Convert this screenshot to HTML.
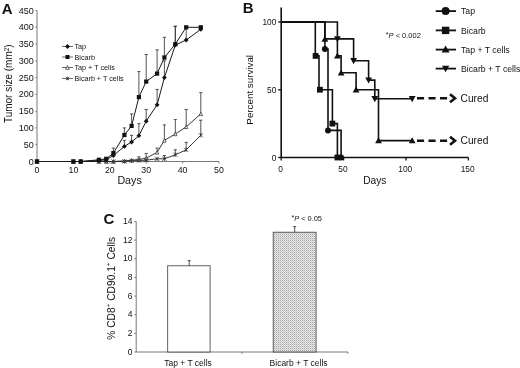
<!DOCTYPE html>
<html><head><meta charset="utf-8"><title>Figure</title>
<style>
html,body{margin:0;padding:0;background:#fff;}
body{width:520px;height:368px;overflow:hidden;}
svg{display:block;font-family:"Liberation Sans", sans-serif;fill:#111;filter:blur(0.3px);}
</style></head><body>
<svg width="520" height="368" viewBox="0 0 520 368">
<rect width="520" height="368" fill="#fff"/>
<g id="chartA">
<path d="M37.0 10.5V161.5H219.0" stroke="#555" stroke-width="0.8" fill="none"/>
<path d="M35.4 161.5H37.0" stroke="#555" stroke-width="0.7"/>
<text x="33.8" y="164.5" font-size="9" text-anchor="end">0</text>
<path d="M35.4 144.7H37.0" stroke="#555" stroke-width="0.7"/>
<text x="33.8" y="147.7" font-size="9" text-anchor="end">50</text>
<path d="M35.4 127.9H37.0" stroke="#555" stroke-width="0.7"/>
<text x="33.8" y="130.9" font-size="9" text-anchor="end">100</text>
<path d="M35.4 111.2H37.0" stroke="#555" stroke-width="0.7"/>
<text x="33.8" y="114.2" font-size="9" text-anchor="end">150</text>
<path d="M35.4 94.4H37.0" stroke="#555" stroke-width="0.7"/>
<text x="33.8" y="97.4" font-size="9" text-anchor="end">200</text>
<path d="M35.4 77.6H37.0" stroke="#555" stroke-width="0.7"/>
<text x="33.8" y="80.6" font-size="9" text-anchor="end">250</text>
<path d="M35.4 60.8H37.0" stroke="#555" stroke-width="0.7"/>
<text x="33.8" y="63.8" font-size="9" text-anchor="end">300</text>
<path d="M35.4 44.1H37.0" stroke="#555" stroke-width="0.7"/>
<text x="33.8" y="47.1" font-size="9" text-anchor="end">350</text>
<path d="M35.4 27.3H37.0" stroke="#555" stroke-width="0.7"/>
<text x="33.8" y="30.3" font-size="9" text-anchor="end">400</text>
<path d="M35.4 10.5H37.0" stroke="#555" stroke-width="0.7"/>
<text x="33.8" y="13.5" font-size="9" text-anchor="end">450</text>
<path d="M37.0 161.5V163.5" stroke="#555" stroke-width="0.7"/>
<text x="37.0" y="173.0" font-size="8.8" text-anchor="middle">0</text>
<path d="M73.4 161.5V163.5" stroke="#555" stroke-width="0.7"/>
<text x="73.4" y="173.0" font-size="8.8" text-anchor="middle">10</text>
<path d="M109.8 161.5V163.5" stroke="#555" stroke-width="0.7"/>
<text x="109.8" y="173.0" font-size="8.8" text-anchor="middle">20</text>
<path d="M146.2 161.5V163.5" stroke="#555" stroke-width="0.7"/>
<text x="146.2" y="173.0" font-size="8.8" text-anchor="middle">30</text>
<path d="M182.6 161.5V163.5" stroke="#555" stroke-width="0.7"/>
<text x="182.6" y="173.0" font-size="8.8" text-anchor="middle">40</text>
<path d="M219.0 161.5V163.5" stroke="#555" stroke-width="0.7"/>
<text x="219.0" y="173.0" font-size="8.8" text-anchor="middle">50</text>
<text x="129.6" y="183.5" font-size="10.7" text-anchor="middle">Days</text>
<text transform="translate(12.2,83.7) rotate(-90)" font-size="10.0" text-anchor="middle">Tumor size (mm<tspan font-size="6.5" dy="-3.5">2</tspan><tspan dy="3.5">)</tspan></text>
<text x="1.7" y="13.5" font-size="15" font-weight="bold">A</text>
<path d="M113.4 155.5V151.4M111.8 151.4H115.0" stroke="#2a2a2a" stroke-width="0.8" fill="none"/>
<path d="M124.4 146.4V140.4M122.8 140.4H126.0" stroke="#2a2a2a" stroke-width="0.8" fill="none"/>
<path d="M131.6 142.0V135.3M130.0 135.3H133.2" stroke="#2a2a2a" stroke-width="0.8" fill="none"/>
<path d="M138.9 135.7V123.6M137.3 123.6H140.5" stroke="#2a2a2a" stroke-width="0.8" fill="none"/>
<path d="M146.2 121.2V109.5M144.6 109.5H147.8" stroke="#2a2a2a" stroke-width="0.8" fill="none"/>
<path d="M157.1 104.8V89.4M155.5 89.4H158.7" stroke="#2a2a2a" stroke-width="0.8" fill="none"/>
<path d="M164.4 77.6V60.8M162.8 60.8H166.0" stroke="#2a2a2a" stroke-width="0.8" fill="none"/>
<path d="M175.3 45.1V26.3M173.7 26.3H176.9" stroke="#2a2a2a" stroke-width="0.8" fill="none"/>
<path d="M186.2 40.0V27.9M184.6 27.9H187.8" stroke="#2a2a2a" stroke-width="0.8" fill="none"/>
<path d="M113.4 153.1V148.1M111.8 148.1H115.0" stroke="#2a2a2a" stroke-width="0.8" fill="none"/>
<path d="M124.4 135.0V127.9M122.8 127.9H126.0" stroke="#2a2a2a" stroke-width="0.8" fill="none"/>
<path d="M131.6 125.9V113.9M130.0 113.9H133.2" stroke="#2a2a2a" stroke-width="0.8" fill="none"/>
<path d="M138.9 97.1V71.6M137.3 71.6H140.5" stroke="#2a2a2a" stroke-width="0.8" fill="none"/>
<path d="M146.2 81.6V54.5M144.6 54.5H147.8" stroke="#2a2a2a" stroke-width="0.8" fill="none"/>
<path d="M157.1 73.6V49.8M155.5 49.8H158.7" stroke="#2a2a2a" stroke-width="0.8" fill="none"/>
<path d="M164.4 57.5V37.3M162.8 37.3H166.0" stroke="#2a2a2a" stroke-width="0.8" fill="none"/>
<path d="M175.3 44.1V26.3M173.7 26.3H176.9" stroke="#2a2a2a" stroke-width="0.8" fill="none"/>
<path d="M138.9 159.5V156.8M137.3 156.8H140.5" stroke="#2a2a2a" stroke-width="0.8" fill="none"/>
<path d="M146.2 158.1V153.4M144.6 153.4H147.8" stroke="#2a2a2a" stroke-width="0.8" fill="none"/>
<path d="M157.1 152.4V148.1M155.5 148.1H158.7" stroke="#2a2a2a" stroke-width="0.8" fill="none"/>
<path d="M164.4 140.4V124.9M162.8 124.9H166.0" stroke="#2a2a2a" stroke-width="0.8" fill="none"/>
<path d="M175.3 134.0V119.6M173.7 119.6H176.9" stroke="#2a2a2a" stroke-width="0.8" fill="none"/>
<path d="M186.2 126.9V109.5M184.6 109.5H187.8" stroke="#2a2a2a" stroke-width="0.8" fill="none"/>
<path d="M200.8 113.9V92.7M199.2 92.7H202.4" stroke="#2a2a2a" stroke-width="0.8" fill="none"/>
<path d="M164.4 158.8V155.5M162.8 155.5H166.0" stroke="#2a2a2a" stroke-width="0.8" fill="none"/>
<path d="M175.3 154.8V149.8M173.7 149.8H176.9" stroke="#2a2a2a" stroke-width="0.8" fill="none"/>
<path d="M186.2 149.8V142.4M184.6 142.4H187.8" stroke="#2a2a2a" stroke-width="0.8" fill="none"/>
<path d="M200.8 135.3V120.2M199.2 120.2H202.4" stroke="#2a2a2a" stroke-width="0.8" fill="none"/>
<polyline points="37.0,161.5 73.4,161.5 80.7,161.5 98.9,161.5 106.2,161.5 113.4,161.5 124.4,160.8 131.6,160.2 138.9,159.5 146.2,158.1 157.1,152.4 164.4,140.4 175.3,134.0 186.2,126.9 200.8,113.9" fill="none" stroke="#222" stroke-width="0.9"/>
<polyline points="37.0,161.5 73.4,161.5 80.7,161.5 98.9,161.5 106.2,161.5 113.4,161.5 124.4,161.5 131.6,160.8 138.9,160.5 146.2,160.2 157.1,158.8 164.4,158.8 175.3,154.8 186.2,149.8 200.8,135.3" fill="none" stroke="#222" stroke-width="0.9"/>
<polyline points="37.0,161.5 73.4,161.5 80.7,161.5 98.9,160.5 106.2,159.8 113.4,155.5 124.4,146.4 131.6,142.0 138.9,135.7 146.2,121.2 157.1,104.8 164.4,77.6 175.3,45.1 186.2,40.0 200.8,29.3" fill="none" stroke="#1a1a1a" stroke-width="1.0"/>
<polyline points="37.0,161.5 73.4,161.5 80.7,161.5 98.9,159.8 106.2,158.8 113.4,153.1 124.4,135.0 131.6,125.9 138.9,97.1 146.2,81.6 157.1,73.6 164.4,57.5 175.3,44.1 186.2,27.3 200.8,27.3" fill="none" stroke="#1a1a1a" stroke-width="1.0"/>
<path d="M37.0 159.8L38.7 163.2H35.3Z" fill="#fff" stroke="#222" stroke-width="0.7"/>
<path d="M73.4 159.8L75.1 163.2H71.7Z" fill="#fff" stroke="#222" stroke-width="0.7"/>
<path d="M80.7 159.8L82.4 163.2H79.0Z" fill="#fff" stroke="#222" stroke-width="0.7"/>
<path d="M98.9 159.8L100.6 163.2H97.2Z" fill="#fff" stroke="#222" stroke-width="0.7"/>
<path d="M106.2 159.8L107.9 163.2H104.5Z" fill="#fff" stroke="#222" stroke-width="0.7"/>
<path d="M113.4 159.8L115.1 163.2H111.7Z" fill="#fff" stroke="#222" stroke-width="0.7"/>
<path d="M124.4 159.1L126.1 162.5H122.7Z" fill="#fff" stroke="#222" stroke-width="0.7"/>
<path d="M131.6 158.5L133.3 161.9H129.9Z" fill="#fff" stroke="#222" stroke-width="0.7"/>
<path d="M138.9 157.8L140.6 161.2H137.2Z" fill="#fff" stroke="#222" stroke-width="0.7"/>
<path d="M146.2 156.4L147.9 159.8H144.5Z" fill="#fff" stroke="#222" stroke-width="0.7"/>
<path d="M157.1 150.7L158.8 154.1H155.4Z" fill="#fff" stroke="#222" stroke-width="0.7"/>
<path d="M164.4 138.7L166.1 142.1H162.7Z" fill="#fff" stroke="#222" stroke-width="0.7"/>
<path d="M175.3 132.3L177.0 135.7H173.6Z" fill="#fff" stroke="#222" stroke-width="0.7"/>
<path d="M186.2 125.2L187.9 128.6H184.5Z" fill="#fff" stroke="#222" stroke-width="0.7"/>
<path d="M200.8 112.2L202.5 115.6H199.1Z" fill="#fff" stroke="#222" stroke-width="0.7"/>
<path d="M34.9 159.4L39.1 163.6M34.9 163.6L39.1 159.4M37.0 159.4V163.6" stroke="#222" stroke-width="0.7" fill="none"/>
<path d="M71.3 159.4L75.5 163.6M71.3 163.6L75.5 159.4M73.4 159.4V163.6" stroke="#222" stroke-width="0.7" fill="none"/>
<path d="M78.6 159.4L82.8 163.6M78.6 163.6L82.8 159.4M80.7 159.4V163.6" stroke="#222" stroke-width="0.7" fill="none"/>
<path d="M96.8 159.4L101.0 163.6M96.8 163.6L101.0 159.4M98.9 159.4V163.6" stroke="#222" stroke-width="0.7" fill="none"/>
<path d="M104.1 159.4L108.3 163.6M104.1 163.6L108.3 159.4M106.2 159.4V163.6" stroke="#222" stroke-width="0.7" fill="none"/>
<path d="M111.3 159.4L115.5 163.6M111.3 163.6L115.5 159.4M113.4 159.4V163.6" stroke="#222" stroke-width="0.7" fill="none"/>
<path d="M122.3 159.4L126.5 163.6M122.3 163.6L126.5 159.4M124.4 159.4V163.6" stroke="#222" stroke-width="0.7" fill="none"/>
<path d="M129.5 158.7L133.7 162.9M129.5 162.9L133.7 158.7M131.6 158.7V162.9" stroke="#222" stroke-width="0.7" fill="none"/>
<path d="M136.8 158.4L141.0 162.6M136.8 162.6L141.0 158.4M138.9 158.4V162.6" stroke="#222" stroke-width="0.7" fill="none"/>
<path d="M144.1 158.1L148.3 162.3M144.1 162.3L148.3 158.1M146.2 158.1V162.3" stroke="#222" stroke-width="0.7" fill="none"/>
<path d="M155.0 156.7L159.2 160.9M155.0 160.9L159.2 156.7M157.1 156.7V160.9" stroke="#222" stroke-width="0.7" fill="none"/>
<path d="M162.3 156.7L166.5 160.9M162.3 160.9L166.5 156.7M164.4 156.7V160.9" stroke="#222" stroke-width="0.7" fill="none"/>
<path d="M173.2 152.7L177.4 156.9M173.2 156.9L177.4 152.7M175.3 152.7V156.9" stroke="#222" stroke-width="0.7" fill="none"/>
<path d="M184.1 147.7L188.3 151.9M184.1 151.9L188.3 147.7M186.2 147.7V151.9" stroke="#222" stroke-width="0.7" fill="none"/>
<path d="M198.7 133.2L202.9 137.4M198.7 137.4L202.9 133.2M200.8 133.2V137.4" stroke="#222" stroke-width="0.7" fill="none"/>
<path d="M37.0 159.1L39.4 161.5L37.0 163.9L34.6 161.5Z" fill="#111"/>
<path d="M73.4 159.1L75.8 161.5L73.4 163.9L71.0 161.5Z" fill="#111"/>
<path d="M80.7 159.1L83.1 161.5L80.7 163.9L78.3 161.5Z" fill="#111"/>
<path d="M98.9 158.1L101.3 160.5L98.9 162.9L96.5 160.5Z" fill="#111"/>
<path d="M106.2 157.4L108.6 159.8L106.2 162.2L103.8 159.8Z" fill="#111"/>
<path d="M113.4 153.1L115.8 155.5L113.4 157.9L111.0 155.5Z" fill="#111"/>
<path d="M124.4 144.0L126.8 146.4L124.4 148.8L122.0 146.4Z" fill="#111"/>
<path d="M131.6 139.6L134.0 142.0L131.6 144.4L129.2 142.0Z" fill="#111"/>
<path d="M138.9 133.3L141.3 135.7L138.9 138.1L136.5 135.7Z" fill="#111"/>
<path d="M146.2 118.8L148.6 121.2L146.2 123.6L143.8 121.2Z" fill="#111"/>
<path d="M157.1 102.4L159.5 104.8L157.1 107.2L154.7 104.8Z" fill="#111"/>
<path d="M164.4 75.2L166.8 77.6L164.4 80.0L162.0 77.6Z" fill="#111"/>
<path d="M175.3 42.7L177.7 45.1L175.3 47.5L172.9 45.1Z" fill="#111"/>
<path d="M186.2 37.6L188.6 40.0L186.2 42.4L183.8 40.0Z" fill="#111"/>
<path d="M200.8 26.9L203.2 29.3L200.8 31.7L198.4 29.3Z" fill="#111"/>
<rect x="34.9" y="159.4" width="4.2" height="4.2" fill="#111"/>
<rect x="71.3" y="159.4" width="4.2" height="4.2" fill="#111"/>
<rect x="78.6" y="159.4" width="4.2" height="4.2" fill="#111"/>
<rect x="96.8" y="157.7" width="4.2" height="4.2" fill="#111"/>
<rect x="104.1" y="156.7" width="4.2" height="4.2" fill="#111"/>
<rect x="111.3" y="151.0" width="4.2" height="4.2" fill="#111"/>
<rect x="122.3" y="132.9" width="4.2" height="4.2" fill="#111"/>
<rect x="129.5" y="123.8" width="4.2" height="4.2" fill="#111"/>
<rect x="136.8" y="95.0" width="4.2" height="4.2" fill="#111"/>
<rect x="144.1" y="79.5" width="4.2" height="4.2" fill="#111"/>
<rect x="155.0" y="71.5" width="4.2" height="4.2" fill="#111"/>
<rect x="162.3" y="55.4" width="4.2" height="4.2" fill="#111"/>
<rect x="173.2" y="42.0" width="4.2" height="4.2" fill="#111"/>
<rect x="184.1" y="25.2" width="4.2" height="4.2" fill="#111"/>
<rect x="198.7" y="25.2" width="4.2" height="4.2" fill="#111"/>
<path d="M62 46.5H73" stroke="#444" stroke-width="0.8"/>
<path d="M67.5 44.1L69.9 46.5L67.5 48.9L65.1 46.5Z" fill="#111"/>
<text x="74.5" y="49.1" font-size="7.2">Tap</text>
<path d="M62 57H73" stroke="#444" stroke-width="0.8"/>
<rect x="65.5" y="55.0" width="4.0" height="4.0" fill="#111"/>
<text x="74.5" y="59.6" font-size="7.2">Bicarb</text>
<path d="M62 67.5H73" stroke="#444" stroke-width="0.8"/>
<path d="M67.5 65.7L69.3 69.3H65.7Z" fill="#fff" stroke="#222" stroke-width="0.7"/>
<text x="74.5" y="70.1" font-size="7.2">Tap + T cells</text>
<path d="M62 78.5H73" stroke="#444" stroke-width="0.8"/>
<path d="M65.8 76.8L69.2 80.2M65.8 80.2L69.2 76.8M67.5 76.8V80.2" stroke="#222" stroke-width="0.7" fill="none"/>
<text x="74.5" y="81.1" font-size="7.2">Bicarb + T cells</text>
</g>
<g id="chartB">
<path d="M281.2 7.5V157.5H468.4" stroke="#111" stroke-width="1.6" fill="none"/>
<path d="M278.2 157.5H281.2" stroke="#111" stroke-width="1.3"/>
<text x="276.4" y="160.5" font-size="8.4" text-anchor="end">0</text>
<path d="M278.2 89.8H281.2" stroke="#111" stroke-width="1.3"/>
<text x="276.4" y="92.8" font-size="8.4" text-anchor="end">50</text>
<path d="M278.2 22.0H281.2" stroke="#111" stroke-width="1.3"/>
<text x="276.4" y="25.0" font-size="8.4" text-anchor="end">100</text>
<path d="M281.2 157.5V160.5" stroke="#111" stroke-width="1.3"/>
<text x="280.5" y="172.3" font-size="8.4" text-anchor="middle">0</text>
<path d="M343.6 157.5V160.5" stroke="#111" stroke-width="1.3"/>
<text x="342.9" y="172.3" font-size="8.4" text-anchor="middle">50</text>
<path d="M406.0 157.5V160.5" stroke="#111" stroke-width="1.3"/>
<text x="405.3" y="172.3" font-size="8.4" text-anchor="middle">100</text>
<path d="M468.4 157.5V160.5" stroke="#111" stroke-width="1.3"/>
<text x="467.7" y="172.3" font-size="8.4" text-anchor="middle">150</text>
<text x="374.8" y="183.5" font-size="10.2" text-anchor="middle">Days</text>
<text transform="translate(253.2,89.8) rotate(-90)" font-size="9.8" text-anchor="middle">Percent survival</text>
<text x="242.7" y="12.8" font-size="15" font-weight="bold">B</text>
<path d="M281.2 22.0 L324.9 22.0 L324.9 49.1 L328.0 49.1 L328.0 130.4 L341.1 130.4 L341.1 157.5" fill="none" stroke="#111" stroke-width="1.6" stroke-linejoin="miter"/>
<path d="M281.2 22.0 L315.3 22.0 L315.3 55.9 L319.0 55.9 L319.0 89.8 L332.4 89.8 L332.4 123.6 L337.4 123.6 L337.4 157.5" fill="none" stroke="#111" stroke-width="1.6" stroke-linejoin="miter"/>
<path d="M281.2 22.0 L324.9 22.0 L324.9 38.9 L337.4 38.9 L337.4 55.9 L341.1 55.9 L341.1 72.8 L356.1 72.8 L356.1 89.8 L378.5 89.8 L378.5 140.6 L412.2 140.6" fill="none" stroke="#111" stroke-width="1.6" stroke-linejoin="miter"/>
<path d="M281.2 22.0 L337.4 22.0 L337.4 38.9 L353.6 38.9 L353.6 60.8 L368.6 60.8 L368.6 80.1 L374.8 80.1 L374.8 98.8 L412.2 98.8" fill="none" stroke="#111" stroke-width="1.6" stroke-linejoin="miter"/>
<circle cx="324.9" cy="49.1" r="3.0" fill="#111"/>
<circle cx="328.0" cy="130.4" r="3.0" fill="#111"/>
<circle cx="341.1" cy="157.5" r="3.0" fill="#111"/>
<rect x="312.7" y="53.0" width="5.8" height="5.8" fill="#111"/>
<rect x="317.0" y="86.8" width="5.8" height="5.8" fill="#111"/>
<rect x="329.5" y="120.7" width="5.8" height="5.8" fill="#111"/>
<rect x="334.5" y="154.6" width="5.8" height="5.8" fill="#111"/>
<path d="M324.9 35.5L328.3 41.7H321.5Z" fill="#111"/>
<path d="M337.4 52.5L340.8 58.6H334.0Z" fill="#111"/>
<path d="M341.1 69.4L344.5 75.5H337.7Z" fill="#111"/>
<path d="M356.1 86.3L359.5 92.5H352.7Z" fill="#111"/>
<path d="M378.5 137.2L381.9 143.3H375.1Z" fill="#111"/>
<path d="M412.2 137.2L415.6 143.3H408.8Z" fill="#111"/>
<path d="M337.4 42.3L340.8 36.2H334.0Z" fill="#111"/>
<path d="M353.6 64.2L357.0 58.0H350.2Z" fill="#111"/>
<path d="M368.6 83.5L372.0 77.4H365.2Z" fill="#111"/>
<path d="M374.8 102.2L378.2 96.1H371.4Z" fill="#111"/>
<path d="M412.2 102.2L415.6 96.1H408.8Z" fill="#111"/>
<path d="M417 98.3H448" stroke="#111" stroke-width="2.4" stroke-dasharray="7.1 4.4" fill="none"/>
<path d="M450 94.3L455 98.3L450 102.3" stroke="#111" stroke-width="2.6" fill="none" stroke-linejoin="miter"/>
<text x="460.6" y="101.9" font-size="10.2">Cured</text>
<path d="M417 140.7H448" stroke="#111" stroke-width="2.4" stroke-dasharray="7.1 4.4" fill="none"/>
<path d="M450 136.7L455 140.7L450 144.7" stroke="#111" stroke-width="2.6" fill="none" stroke-linejoin="miter"/>
<text x="460.6" y="144.3" font-size="10.2">Cured</text>
<path d="M435.7 11.1H456" stroke="#111" stroke-width="1.8"/>
<circle cx="445.6" cy="11.1" r="4" fill="#111"/>
<text x="461" y="14.2" font-size="8.7">Tap</text>
<path d="M435.7 30.4H456" stroke="#111" stroke-width="1.8"/>
<rect x="441.90000000000003" y="26.7" width="7.4" height="7.4" fill="#111"/>
<text x="461" y="33.5" font-size="8.7">Bicarb</text>
<path d="M435.7 49.6H456" stroke="#111" stroke-width="1.8"/>
<path d="M445.6 45.6L449.6 52.6H441.6Z" fill="#111"/>
<text x="461" y="52.7" font-size="8.7">Tap + T cells</text>
<path d="M435.7 68.6H456" stroke="#111" stroke-width="1.8"/>
<path d="M445.6 72.19999999999999L449.20000000000005 65.69999999999999H442.0Z" fill="#111"/>
<text x="461" y="71.7" font-size="8.7">Bicarb + T cells</text>
<text x="385.8" y="37.8" font-size="7.5"><tspan font-size="7" dy="-1">*</tspan><tspan dy="1" font-style="italic">P</tspan> &lt; 0.002</text>
</g>
<defs><pattern id="dots" width="2" height="2" patternUnits="userSpaceOnUse"><rect width="2" height="2" fill="#e6e6e6"/><rect width="1" height="1" fill="#a6a6a6"/><rect x="1" y="1" width="1" height="1" fill="#cdcdcd"/></pattern></defs>
<g id="chartC">
<path d="M136.2 221.5V352.0H347.8" stroke="#555" stroke-width="0.8" fill="none"/>
<path d="M134.2 352.0H136.2" stroke="#555" stroke-width="0.7"/>
<text x="132.39999999999998" y="354.6" font-size="8.5" text-anchor="end">0</text>
<path d="M134.2 333.4H136.2" stroke="#555" stroke-width="0.7"/>
<text x="132.39999999999998" y="336.0" font-size="8.5" text-anchor="end">2</text>
<path d="M134.2 314.7H136.2" stroke="#555" stroke-width="0.7"/>
<text x="132.39999999999998" y="317.3" font-size="8.5" text-anchor="end">4</text>
<path d="M134.2 296.1H136.2" stroke="#555" stroke-width="0.7"/>
<text x="132.39999999999998" y="298.7" font-size="8.5" text-anchor="end">6</text>
<path d="M134.2 277.4H136.2" stroke="#555" stroke-width="0.7"/>
<text x="132.39999999999998" y="280.0" font-size="8.5" text-anchor="end">8</text>
<path d="M134.2 258.8H136.2" stroke="#555" stroke-width="0.7"/>
<text x="132.39999999999998" y="261.4" font-size="8.5" text-anchor="end">10</text>
<path d="M134.2 240.1H136.2" stroke="#555" stroke-width="0.7"/>
<text x="132.39999999999998" y="242.7" font-size="8.5" text-anchor="end">12</text>
<path d="M134.2 221.5H136.2" stroke="#555" stroke-width="0.7"/>
<text x="132.39999999999998" y="224.1" font-size="8.5" text-anchor="end">14</text>
<path d="M242.0 352.0V354.0" stroke="#555" stroke-width="0.7"/>
<path d="M347.8 352.0V354.0" stroke="#555" stroke-width="0.7"/>
<rect x="167.7" y="265.8" width="42.4" height="86.2" fill="#fff" stroke="#3a3a3a" stroke-width="0.8"/>
<path d="M189.2 265.8V260.6M187.7 260.6H190.7" stroke="#222" stroke-width="0.8"/>
<rect x="273.2" y="232.2" width="42.9" height="119.8" fill="url(#dots)" stroke="#3a3a3a" stroke-width="0.8"/>
<path d="M294.7 232.2V226.6M293.2 226.6H296.2" stroke="#222" stroke-width="0.8"/>
<text x="188.0" y="366.0" font-size="8.5" text-anchor="middle">Tap + T cells</text>
<text x="298.6" y="366.0" font-size="8.5" text-anchor="middle">Bicarb + T cells</text>
<text x="291.5" y="221.2" font-size="7.4"><tspan font-size="7" dy="-1">*</tspan><tspan dy="1" font-style="italic">P</tspan> &lt; 0.05</text>
<text transform="translate(114.5,288.3) rotate(-90)" font-size="10.2" text-anchor="middle">% CD8<tspan font-size="6.5" dy="-3.5">+</tspan><tspan dy="3.5"> CD90.1</tspan><tspan font-size="6.5" dy="-3.5">+</tspan><tspan dy="3.5"> Cells</tspan></text>
<text x="103.6" y="224.3" font-size="15" font-weight="bold">C</text>
</g>
</svg>
</body></html>
